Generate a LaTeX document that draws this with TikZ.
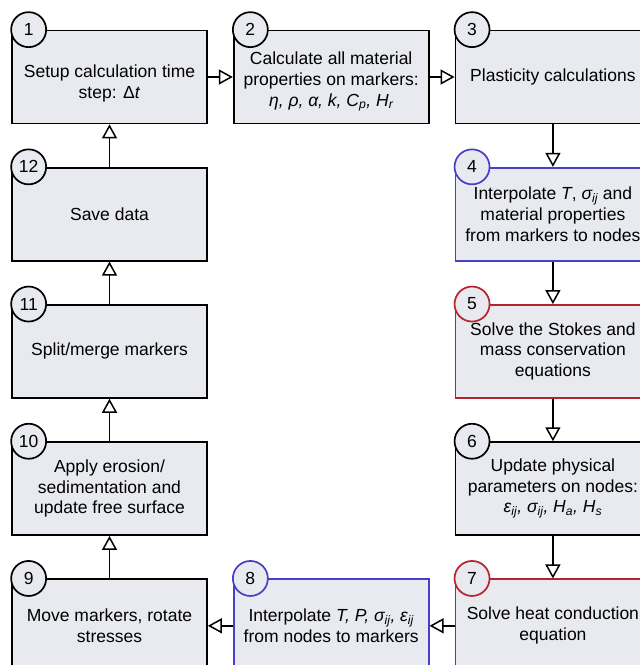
\documentclass[tikz,border=0pt]{standalone}
\usepackage{fontspec}
\setmainfont{Liberation Sans}
\usepackage{tikz}
\usetikzlibrary{positioning,arrows.meta}
\pgfmathsetmacro{\boxw}{195}
\pgfmathsetmacro{\boxh}{93}
\pgfmathsetmacro{\hgap}{25}
\pgfmathsetmacro{\vgap}{42.5}
\pgfmathsetmacro{\numrad}{17.5}
\definecolor{boxfill}{RGB}{232,234,240}
\definecolor{stepblue}{RGB}{72,62,200}
\definecolor{stepred}{RGB}{184,34,46}
\tikzset{
    stepbox/.style={draw, fill=boxfill, line width=1.7bp, align=center,
        minimum width=\boxw bp, minimum height=\boxh bp, inner sep=0pt},
    stepnum/.style={circle, draw, fill=boxfill, line width=1.7bp,
        minimum size=2*\numrad bp, inner sep=0pt},
    flow/.style={line width=1.5bp, -{Triangle[open, length=14bp, width=15bp]}}
}

\begin{document}
\begin{tikzpicture}[x=1bp, y=1bp, font=\fontsize{17.5bp}{20.7bp}\selectfont]
    \useasboundingbox (0,0) rectangle (640,-665);
    \clip (0,0) rectangle (640,-665);
    % define boxes
    % top row
    \node[stepbox] (s1) at (109.5,-77) {\rule{0pt}{26bp}Setup calculation time\\step: Δ\textit{t}};
    \node[stepbox, right=\hgap bp of s1] (s2) {\rule{0pt}{22bp}Calculate all material\\properties on markers:\\\textit{η, ρ, α, k, C\textsubscript{p}, H\textsubscript{r}}};
    \node[stepbox, right=\hgap bp of s2] (s3) {Plasticity calculations};
    % right column
    \node[stepbox, draw=stepblue, below=\vgap bp of s3] (s4) {Interpolate \textit{T}, \textit{σ\textsubscript{ij}} and\\material properties\\from markers to nodes};
    \node[stepbox, draw=stepred, below=\vgap bp of s4] (s5) {Solve the Stokes and\\mass conservation\\equations};
    \node[stepbox, below=\vgap bp of s5] (s6) {Update physical\\parameters on nodes:\\\textit{ε\textsubscript{ij}, σ\textsubscript{ij}, H\textsubscript{a}, H\textsubscript{s}}};
    \node[stepbox, draw=stepred, below=\vgap bp of s6] (s7) {Solve heat conduction\\equation};
    % bottom row
    \node[stepbox, draw=stepblue, left=\hgap bp of s7] (s8) {Interpolate \textit{T, P, σ\textsubscript{ij}, ε\textsubscript{ij}}\\from nodes to markers};
    \node[stepbox, left=\hgap bp of s8] (s9) {Move markers, rotate\\stresses};
    % left column
    \node[stepbox, below=\vgap bp of s1] (s12) {Save data};
    \node[stepbox, below=\vgap bp of s12] (s11) {Split/merge markers};
    \node[stepbox, below=\vgap bp of s11] (s10) {Apply erosion/\\sedimentation and\\update free surface};
    % step numbers
    \node[stepnum] (n1) at ([xshift=\numrad bp]s1.north west) {1};
    \node[stepnum] (n2) at ([xshift=\numrad bp]s2.north west) {2};
    \node[stepnum] (n3) at ([xshift=\numrad bp]s3.north west) {3};
    \node[stepnum, draw=stepblue] (n4) at ([xshift=\numrad bp]s4.north west) {4};
    \node[stepnum, draw=stepred] (n5) at ([xshift=\numrad bp]s5.north west) {5};
    \node[stepnum] (n6) at ([xshift=\numrad bp]s6.north west) {6};
    \node[stepnum, draw=stepred] (n7) at ([xshift=\numrad bp]s7.north west) {7};
    \node[stepnum, draw=stepblue] (n8) at ([xshift=\numrad bp]s8.north west) {8};
    \node[stepnum] (n9) at ([xshift=\numrad bp]s9.north west) {9};
    \node[stepnum] (n10) at ([xshift=\numrad bp]s10.north west) {10};
    \node[stepnum] (n11) at ([xshift=\numrad bp]s11.north west) {11};
    \node[stepnum] (n12) at ([xshift=\numrad bp]s12.north west) {12};
    % draw connectors
    \draw[flow] (s1) -- (s2);
    \draw[flow] (s2) -- (s3);
    \draw[flow] (s3) -- (s4);
    \draw[flow] (s4) -- (s5);
    \draw[flow] (s5) -- (s6);
    \draw[flow] (s6) -- (s7);
    \draw[flow] (s7) -- (s8);
    \draw[flow] (s8) -- (s9);
    \draw[flow] (s9) -- (s10);
    \draw[flow] (s10) -- (s11);
    \draw[flow] (s11) -- (s12);
    \draw[flow] (s12) -- (s1);
\end{tikzpicture}
\end{document}
